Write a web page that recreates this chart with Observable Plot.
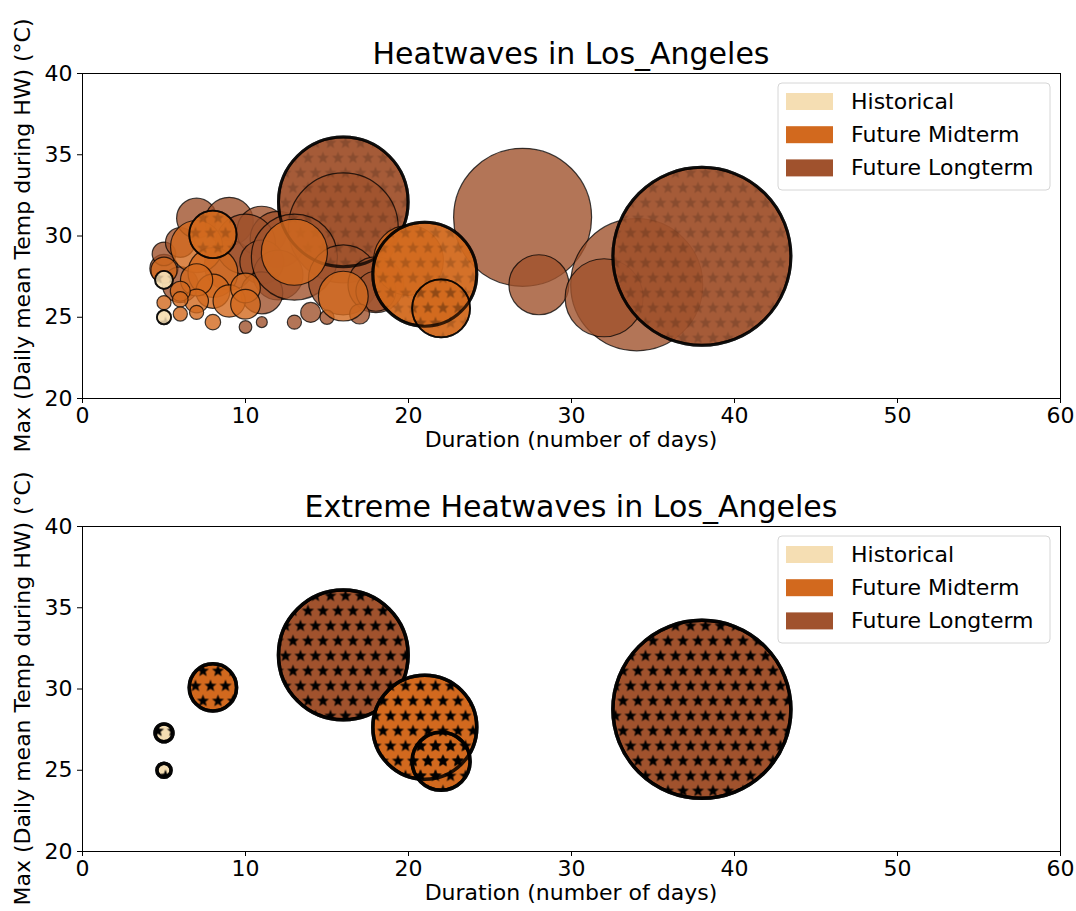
<!DOCTYPE html>
<html>
<head>
<meta charset="utf-8">
<script src="https://cdn.jsdelivr.net/npm/d3@7"></script>
<script src="https://cdn.jsdelivr.net/npm/@observablehq/plot@0.6"></script>
<style>
  html, body { margin: 0; padding: 0; background: white; }
  #wrap { position: relative; width: 1076px; height: 911px; overflow: hidden; background: white; font-family: "DejaVu Sans", sans-serif; }
  #wrap > svg.panel { position: absolute; left: 0; }
  #overlay { position: absolute; left: 0; top: 0; pointer-events: none; }
</style>
</head>
<body>
<div id="wrap"></div>
<script>
// ---------------- data ----------------
const city = "Los_Angeles";
const periods = ["Historical", "Future Midterm", "Future Longterm"];
const periodColors = ["#f5deb3", "#d2691e", "#a0522d"];
const xTicks = [0, 10, 20, 30, 40, 50, 60];
const yTicks = [20, 25, 30, 35, 40];
const xLabel = "Duration (number of days)";
const yLabel = "Max (Daily mean Temp during HW) (°C)";

// Future Longterm heatwaves
const ltDur  = [5, 5, 6, 6, 7, 9, 9, 11, 12, 10, 11, 12, 11, 16, 16, 13, 16, 18, 18, 10, 11, 13, 14, 15, 17, 27, 28, 34, 32, 38];
const ltTemp = [28.0, 28.9, 27.0, 29.6, 31.1, 30.9, 28.2, 30.3, 29.8, 29.5, 28.4, 27.6, 26.5, 32.1, 30.5, 28.7, 27.3, 27.0, 26.6, 24.4, 24.7, 24.7, 25.3, 25.0, 25.2, 31.15, 27.0, 27.0, 26.2, 28.75];
const ltSize = [20, 14, 32, 22, 40, 58, 62, 62, 78, 90, 48, 62, 44, 420, 302, 185, 122, 78, 40, 4, 3, 5, 10, 5, 10, 476, 90, 436, 152, 792];
const ltExt  = [0, 0, 0, 0, 0, 0, 0, 0, 0, 0, 0, 0, 0, 1, 0, 0, 0, 0, 0, 0, 0, 0, 0, 0, 0, 0, 0, 0, 0, 1];

// Future Midterm heatwaves
const midDur  = [5, 7, 8, 8, 7, 9, 10, 10, 7, 6, 6, 5, 6, 7, 8, 16, 13, 20, 8, 21, 22];
const midTemp = [27.9, 29.35, 27.75, 26.6, 27.3, 26.0, 26.8, 25.8, 26.0, 26.6, 26.1, 25.9, 25.2, 25.3, 24.7, 26.3, 29.0, 28.5, 30.1, 27.65, 25.55];
const midSize = [17, 68, 62, 29, 26, 26, 22, 22, 14, 10, 6, 5, 5, 5, 6, 62, 109, 122, 56, 270, 84];
const midExt  = [0, 0, 0, 0, 0, 0, 0, 0, 0, 0, 0, 0, 0, 0, 0, 0, 0, 0, 1, 1, 1];

// Historical heatwaves
const histDur  = [5, 5];
const histTemp = [27.3, 25.0];
const histSize = [8, 5];
const histExt  = [1, 1];

// ---------------- build rows ----------------
function rows(dur, temp, size, ext) {
  return dur.map((d, i) => ({dur: d, temp: temp[i], size: size[i], ext: ext[i] === 1}));
}
const groups = [
  {rows: rows(ltDur, ltTemp, ltSize, ltExt), color: periodColors[2]},
  {rows: rows(midDur, midTemp, midSize, midExt), color: periodColors[1]},
  {rows: rows(histDur, histTemp, histSize, histExt), color: periodColors[0]}
];

const W = 1076, H = 453;
const M = {top: 73, bottom: 55, left: 82, right: 16};
const wrap = document.getElementById("wrap");

function starPath(cx, cy, R, r) {
  const pts = [];
  for (let k = 0; k < 10; k++) {
    const a = -Math.PI / 2 + k * Math.PI / 5;
    const rad = k % 2 === 0 ? R : r;
    pts.push([cx + rad * Math.cos(a), cy + rad * Math.sin(a)]);
  }
  return "M" + pts.map(p => p[0].toFixed(2) + "," + p[1].toFixed(2)).join("L") + "Z";
}

function panel(cfg) {
  const marks = [Plot.frame({stroke: "black", strokeWidth: 1})];
  const thickOf = d => (d.size >= 100 ? cfg.thick : cfg.thickSmall);
  for (const g of groups) {
    const data = cfg.onlyExtreme ? g.rows.filter(d => d.ext) : g.rows;
    const ext = g.rows.filter(d => d.ext);
    marks.push(Plot.dot(data, {
      x: "dur", y: "temp", r: "size", sort: null,
      fill: g.color,
      fillOpacity: d => d.ext ? cfg.extOpacity : cfg.fillOpacity,
      stroke: "black", strokeOpacity: cfg.strokeOpacity,
      strokeWidth: d => d.ext ? thickOf(d) : cfg.thin
    }));
    marks.push(Plot.dot(ext, {
      x: "dur", y: "temp", r: "size", sort: null,
      fill: `url(#${cfg.patternId})`, fillOpacity: cfg.starOpacity, stroke: "none"
    }));
    marks.push(Plot.dot(ext, {
      x: "dur", y: "temp", r: "size", sort: null,
      fill: "none", stroke: "black", strokeOpacity: cfg.strokeOpacity, strokeWidth: thickOf
    }));
  }
  const chart = Plot.plot({
    width: W, height: H,
    marginTop: M.top, marginBottom: M.bottom, marginLeft: M.left, marginRight: M.right,
    x: {domain: [0, 60], ticks: xTicks, tickSize: 5, tickPadding: 4, label: null},
    y: {domain: [20, 40], ticks: yTicks, tickSize: 5, tickPadding: 5, label: null},
    r: {type: "sqrt", domain: [0, 800], range: [0, Math.sqrt(8000)]},
    style: {fontFamily: "DejaVu Sans", fontSize: "22px", color: "black", background: "white", overflow: "visible"},
    marks
  });
  chart.classList.add("panel");
  chart.style.top = cfg.top + "px";
  // star hatch pattern
  const defs = d3.select(chart).insert("defs", ":first-child");
  const pat = defs.append("pattern")
    .attr("id", cfg.patternId)
    .attr("patternUnits", "userSpaceOnUse")
    .attr("width", 15).attr("height", 30);
  pat.selectAll("path")
    .data([[7.5, 7.5], [0, 22.5], [15, 22.5]])
    .join("path")
    .attr("d", p => starPath(p[0], p[1], 6.4, 2.7))
    .attr("fill", "black");
  wrap.appendChild(chart);
}

panel({top: 0, onlyExtreme: false, fillOpacity: 0.8, extOpacity: 0.95, strokeOpacity: 0.75, thin: 1.2, thick: 3, thickSmall: 1.8, starOpacity: 0.17, patternId: "starsTop"});
panel({top: H, onlyExtreme: true, fillOpacity: 1, extOpacity: 1, strokeOpacity: 0.85, thin: 1.2, thick: 3.5, thickSmall: 3.5, starOpacity: 1, patternId: "starsBottom"});

// ---------------- overlay texts & legends ----------------
const ov = d3.select(wrap).append("svg")
  .attr("id", "overlay").attr("width", W).attr("height", 911)
  .style("font-family", "DejaVu Sans");
const titles = [`Heatwaves in ${city}`, `Extreme Heatwaves in ${city}`];
const cx = M.left + (W - M.left - M.right) / 2;
titles.forEach((t, i) => {
  const off = i * H;
  const g = ov.append("g").attr("transform", `translate(0,${off})`);
  g.append("text").attr("x", cx).attr("y", 64).attr("text-anchor", "middle")
    .attr("font-size", 30).attr("fill", "black").text(t);
  g.append("text").attr("x", cx).attr("y", 447).attr("text-anchor", "middle")
    .attr("font-size", 22).attr("fill", "black").text(xLabel);
  g.append("text").attr("transform", `translate(30,${(M.top + (H - M.bottom)) / 2}) rotate(-90)`)
    .attr("text-anchor", "middle").attr("font-size", 22).attr("fill", "black").text(yLabel);
  // legend
  const lg = g.append("g");
  lg.append("rect").attr("x", 778).attr("y", 83).attr("width", 272).attr("height", 107)
    .attr("rx", 4).attr("fill", "white").attr("fill-opacity", 0.8)
    .attr("stroke", "#d6d6d6").attr("stroke-width", 1);
  periods.forEach((p, j) => {
    const yy = 93 + j * 33.2;
    lg.append("rect").attr("x", 786).attr("y", yy).attr("width", 47).attr("height", 17)
      .attr("fill", periodColors[j]);
    lg.append("text").attr("x", 851).attr("y", yy + 16).attr("font-size", 22)
      .attr("fill", "black").text(p);
  });
});
</script>
</body>
</html>
